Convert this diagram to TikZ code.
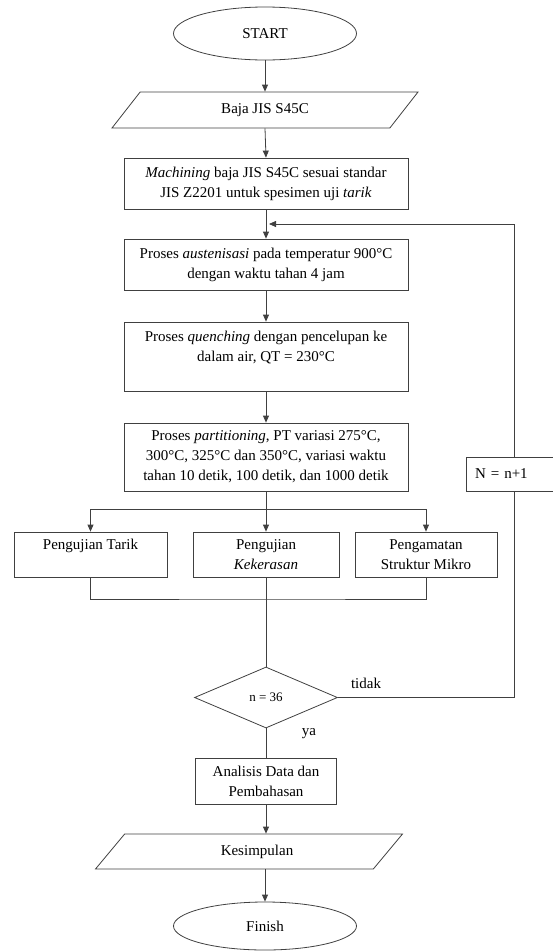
\documentclass[tikz,border=0pt]{standalone}
\usepackage{fontspec}
\setmainfont{Liberation Serif}
\usetikzlibrary{shapes.geometric,arrows.meta}

\tikzset{
  garis/.style={black!75,line width=0.8pt},
  pfeil/.style={garis,-{Triangle[length=7pt,width=6pt]}},
  kotak/.style={draw=black!75,line width=0.8pt,rectangle,align=center,inner sep=0pt},
  oval/.style={draw=black!75,line width=0.8pt,ellipse,minimum width=183pt,inner sep=0pt},
  jajar/.style={draw=black!75,line width=0.8pt,trapezium,trapezium left angle=25,
    trapezium right angle=155,trapezium stretches body=true,minimum height=36pt,inner sep=0pt},
}

\begin{document}
\begin{tikzpicture}[x=1pt,y=-1pt,font=\fontsize{15}{20}\selectfont]
    \useasboundingbox (0,0) rectangle (553,951);

    % Start und Eingabe
    \node[oval,minimum height=53pt] (start) at (265,33.5) {START};
    \node[jajar,minimum width=306pt] (baja) at (265,110) {Baja JIS S45C};

    % Prozessschritte
    \node[kotak,minimum width=284pt,minimum height=51pt] (mach) at (266,183.5) {\textit{Machining} baja JIS S45C sesuai standar\\JIS Z2201 untuk spesimen uji \textit{tarik}};
    \node[kotak,minimum width=284pt,minimum height=51pt] (aust) at (266,264.5) {Proses \textit{austenisasi} pada temperatur 900°C\\dengan waktu tahan 4 jam};
    \node[kotak,minimum width=284pt,minimum height=69pt] (quench) at (266,356.5) {Proses \textit{quenching} dengan pencelupan ke\\dalam air, QT = 230°C\\\mbox{}};
    \node[kotak,minimum width=284pt,minimum height=68pt] (part) at (266,457) {Proses \textit{partitioning}, PT variasi 275°C,\\300°C, 325°C dan 350°C, variasi waktu\\tahan 10 detik, 100 detik, dan 1000 detik};

    % Pruefungen
    \node[kotak,minimum width=153pt,minimum height=45pt] (tarik) at (90.5,554.5) {Pengujian Tarik\\\mbox{}};
    \node[kotak,minimum width=146pt,minimum height=45pt] (keras) at (266,554.5) {Pengujian\\\textit{Kekerasan}};
    \node[kotak,minimum width=142pt,minimum height=45pt] (struktur) at (426,554.5) {Pengamatan\\Struktur Mikro};

    % Entscheidung und Schleife
    \node[draw=black!75,line width=0.8pt,diamond,minimum width=143pt,minimum height=61pt,inner sep=0pt,font=\fontsize{13}{16}\selectfont] (cek) at (266,697.5) {n = 36};
    \node[kotak,align=left,text width=78pt,inner xsep=9pt,minimum height=34pt] (nplus) at (514,474) {N = n+1};
    \node (tidak) at (366,683) {tidak};
    \node (ya) at (309,734) {ya};

    % Auswertung und Ende
    \node[kotak,minimum width=141pt,minimum height=46pt] (analisis) at (266,781) {Analisis Data dan\\Pembahasan};
    \node[jajar,minimum width=307pt,minimum height=35pt] (simpul) at (249,851.5) {\hspace{16pt}Kesimpulan};
    \node[oval,minimum height=48pt] (finish) at (265,926) {Finish};

    % Verbindungen
    \coordinate (cabang) at (266,509);
    \coordinate (gabung) at (266,599);
    \coordinate (balik) at (269,224);
    \draw[pfeil] (start.south) -- (start.south |- baja.north);
    \draw[pfeil] (start.south |- baja.south) -- (mach.north);
    \draw[pfeil] (mach) -- (aust);
    \draw[pfeil] (aust) -- (quench);
    \draw[pfeil] (quench) -- (part);
    \draw[pfeil] (part) -- (keras);
    \draw[pfeil] (cabang) -| (tarik.north);
    \draw[pfeil] (cabang) -| (struktur.north);
    \draw[garis] (tarik.south) |- (gabung) -| (struktur.south);
    \draw[garis] (keras) -- (cek);
    \draw[garis] (cek) -- (analisis);
    \draw[garis] (cek.east) -| (nplus.south);
    \draw[pfeil] (nplus.north) |- (balik);
    \draw[pfeil] (analisis.south) -- (analisis.south |- simpul.north);
    \draw[pfeil] (finish.north |- simpul.south) -- (finish.north);

\end{tikzpicture}
\end{document}
